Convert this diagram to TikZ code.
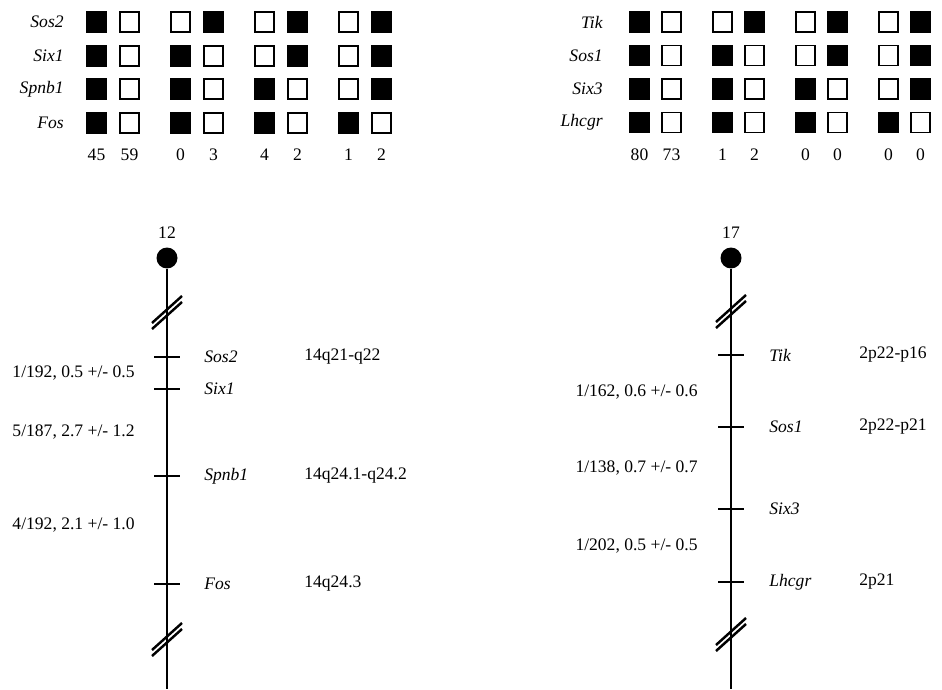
\documentclass[tikz,border=0pt]{standalone}
\usepackage{fontspec}
\setmainfont{Liberation Serif}
\usetikzlibrary{positioning}

\tikzset{
  fbox/.style={draw=black, fill=black, line width=1.1pt},
  obox/.style={draw=black, fill=white, line width=1.1pt},
  rowlab/.style={anchor=east, inner sep=0pt, font=\itshape},
  cnt/.style={inner sep=0pt},
  axis/.style={line width=1.2pt},
  tickmark/.style={line width=1.2pt},
  brk/.style={line width=1.4pt},
  cent/.style={circle, fill=black, minimum size=0.42cm, inner sep=0pt},
  gene/.style={anchor=west, inner sep=0pt, font=\itshape},
  loc/.style={anchor=west, inner sep=0pt},
  dist/.style={anchor=east, inner sep=0pt}
}

\begin{document}
\begin{tikzpicture}[x=0.02cm, y=-0.02cm]
  \useasboundingbox (0,0) rectangle (942,689);

  % haplotype table, chromosome 12
  \foreach \lab [count=\r] in {Sos2,Six1,Spnb1,Fos} {
    \pgfmathsetmacro{\ry}{22+33.7*(\r-1)}
    \node[rowlab] (lrow\r) at (64,\ry) {\lab};
    \foreach \c in {1,...,4} {
      \pgfmathsetmacro{\cx}{113+84*(\c-1)}
      \ifnum\c>\r
        \draw[obox] (\cx-26,\ry-10) rectangle ++(19,20);
        \draw[fbox] (\cx+7,\ry-10) rectangle ++(19,20);
      \else
        \draw[fbox] (\cx-26,\ry-10) rectangle ++(19,20);
        \draw[obox] (\cx+7,\ry-10) rectangle ++(19,20);
      \fi
    }
  }
  \foreach \n/\m [count=\c] in {45/59, 0/3, 4/2, 1/2} {
    \pgfmathsetmacro{\cx}{113+84*(\c-1)}
    \node[cnt] (lcnta\c) at (\cx-16.5,155) {\n};
    \node[cnt] (lcntb\c) at (\cx+16.5,155) {\m};
  }

  % haplotype table, chromosome 17
  \foreach \lab [count=\r] in {Tik,Sos1,Six3,Lhcgr} {
    \pgfmathsetmacro{\ry}{22+33.5*(\r-1)}
    \node[rowlab] (rrow\r) at (603,\ry) {\lab};
    \foreach \c in {1,...,4} {
      \pgfmathsetmacro{\cx}{655+83*(\c-1)}
      \ifnum\c>\r
        \draw[obox] (\cx-25,\ry-10) rectangle ++(19,20);
        \draw[fbox] (\cx+7,\ry-10) rectangle ++(19,20);
      \else
        \draw[fbox] (\cx-25,\ry-10) rectangle ++(19,20);
        \draw[obox] (\cx+7,\ry-10) rectangle ++(19,20);
      \fi
    }
  }
  \foreach \n/\m [count=\c] in {80/73, 1/2, 0/0, 0/0} {
    \pgfmathsetmacro{\cx}{655+83*(\c-1)}
    \node[cnt] (rcnta\c) at (\cx-15.5,155) {\n};
    \node[cnt] (rcntb\c) at (\cx+16.5,155) {\m};
  }

  % linkage map, chromosome 12
  \node (lnum) at (167,233) {12};
  \node[cent] (lcen) at (167,258) {};
  \coordinate (lend) at (167,689);
  \draw[axis] (lcen) -- (lend);
  \foreach \y in {311,638} {
    \draw[brk] (152,\y+12) -- (182,\y-15);
    \draw[brk] (152,\y+18) -- (182,\y-9);
  }
  \foreach \g/\y/\loc in {Sos2/357/14q21-q22, Six1/389/, Spnb1/476/14q24.1-q24.2, Fos/584/14q24.3} {
    \coordinate (l\g) at (167,\y);
    \draw[tickmark] (154,\y) -- (180,\y);
    \node[gene] (l\g-name) at (204,\y) {\g};
    \node[loc] (l\g-loc) at (304,\y) {\loc};
  }
  \node[dist] (ldist1) at (135,373) {1/192, 0.5 +/- 0.5};
  \node[dist] (ldist2) at (135,432) {5/187, 2.7 +/- 1.2};
  \node[dist] (ldist3) at (135,525) {4/192, 2.1 +/- 1.0};

  % linkage map, chromosome 17
  \node (rnum) at (731,233) {17};
  \node[cent] (rcen) at (731,258) {};
  \coordinate (rend) at (731,689);
  \draw[axis] (rcen) -- (rend);
  \foreach \y in {310,633} {
    \draw[brk] (716,\y+12) -- (746,\y-15);
    \draw[brk] (716,\y+18) -- (746,\y-9);
  }
  \foreach \g/\y/\loc in {Tik/355/2p22-p16, Sos1/427/2p22-p21, Six3/509/, Lhcgr/582/2p21} {
    \coordinate (r\g) at (731,\y);
    \draw[tickmark] (718,\y) -- (744,\y);
    \node[gene] (r\g-name) at (769,\y) {\g};
    \node[loc] (r\g-loc) at (859,\y) {\loc};
  }
  \node[dist] (rdist1) at (698,392) {1/162, 0.6 +/- 0.6};
  \node[dist] (rdist2) at (698,468) {1/138, 0.7 +/- 0.7};
  \node[dist] (rdist3) at (698,546) {1/202, 0.5 +/- 0.5};
\end{tikzpicture}
\end{document}
